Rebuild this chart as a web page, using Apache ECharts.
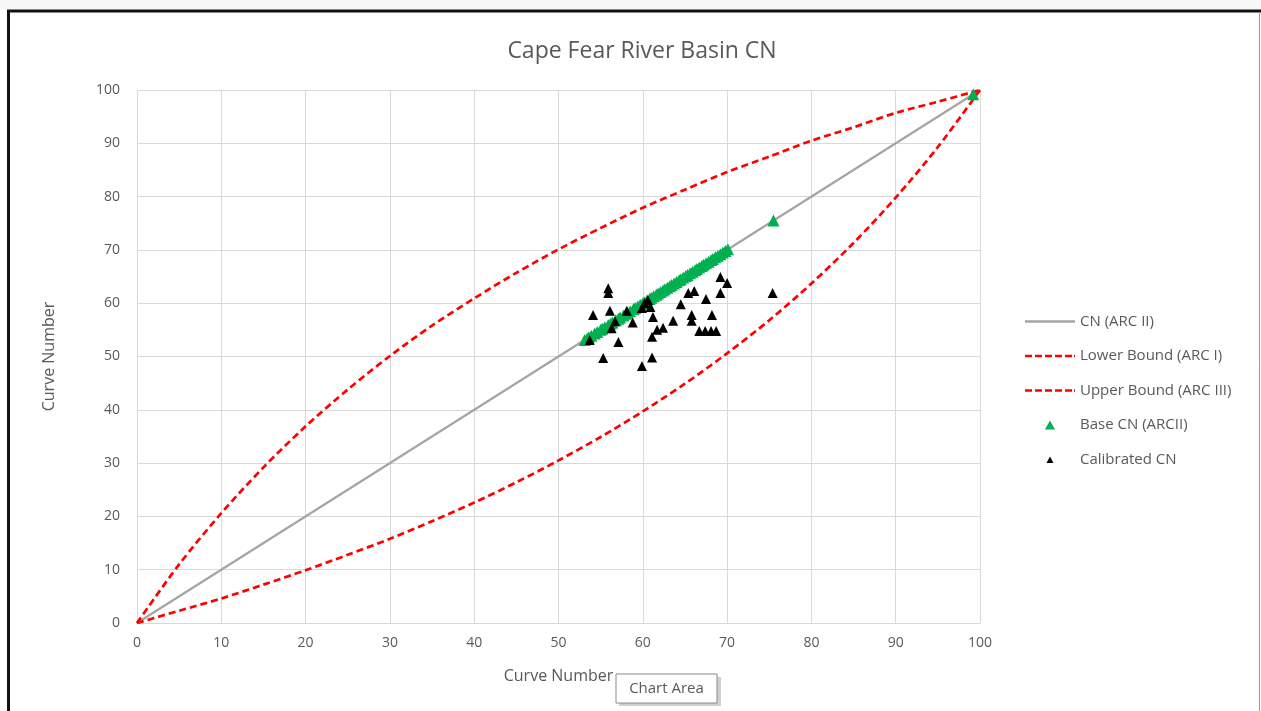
<!DOCTYPE html>
<html><head><meta charset="utf-8">
<script src="https://cdn.jsdelivr.net/npm/echarts@6/dist/echarts.min.js"></script>
<style>html,body{margin:0;padding:0;background:#fff;}#c{width:1261px;height:711px;}</style>
</head><body><div id="c"></div>
<script>
var titleText = 'Cape Fear River Basin CN';
var axisName = 'Curve Number';
var seriesNames = ['CN (ARC II)', 'Lower Bound (ARC I)', 'Upper Bound (ARC III)', 'Base CN (ARCII)', 'Calibrated CN'];

// CN (ARC II) 1:1 line
var arc2X = [0, 100];
var arc2Y = [0, 100];

// bound curves read at every 5 CN
var boundX = [0, 5, 10, 15, 20, 25, 30, 35, 40, 45, 50, 55, 60, 65, 70, 75, 80, 85, 90, 95, 100];
var arc1Y = [0, 2.3, 4.6, 7.2, 9.9, 12.8, 15.8, 19.1, 22.6, 26.4, 30.5, 34.9, 39.7, 44.9, 50.6, 56.8, 63.7, 71.3, 79.8, 89.3, 100];
var arc3Y = [0, 11.0, 20.6, 29.2, 36.9, 43.8, 50.1, 55.8, 60.9, 65.7, 70.1, 74.1, 77.9, 81.3, 84.6, 87.5, 90.5, 93.0, 95.7, 97.8, 100];

// Base CN (ARC II) points lie on the 1:1 line
var baseCN = [53.1, 53.4, 53.6, 53.9, 54.3, 54.6, 55.0, 55.2, 55.5, 55.9, 56.2, 56.4, 56.8, 57.1, 57.3, 57.7, 58.0, 58.2, 58.5, 58.9,
  59.1, 59.4, 59.7, 60.0, 60.2, 60.5, 60.8, 61.0, 61.3, 61.6, 61.8, 62.1, 62.4, 62.6, 62.9, 63.2, 63.4, 63.7, 64.0, 64.3,
  64.5, 64.8, 65.1, 65.3, 65.6, 65.9, 66.2, 66.4, 66.7, 67.0, 67.2, 67.5, 67.8, 68.1, 68.3, 68.6, 68.9, 69.2, 69.5, 69.8, 70.1,
  75.5, 99.2];

// Calibrated CN points
var calX = [53.7, 54.1, 55.3, 55.9, 55.9, 56.1, 56.3, 56.7, 57.1, 58.1, 58.8, 59.9, 59.9, 60.6, 60.9, 61.2, 61.1, 61.1, 61.7, 62.4,
  63.6, 64.5, 65.4, 66.1, 65.8, 65.8, 66.7, 67.4, 68.1, 68.7, 67.5, 68.2, 69.2, 70.0, 69.2, 75.4, 60.2];
var calY = [53.1, 57.8, 49.7, 62.8, 61.9, 58.6, 55.3, 56.6, 52.7, 58.6, 56.4, 59.1, 48.2, 60.6, 59.3, 57.4, 53.7, 49.8, 55.0, 55.4,
  56.7, 59.8, 61.9, 62.3, 57.8, 56.7, 54.8, 54.8, 54.8, 54.8, 60.8, 57.8, 64.9, 63.8, 61.9, 61.9, 60.0];

var tickMin = 0, tickMax = 100, tickStep = 10;

function pairs(xs, ys) { return xs.map(function (x, i) { return [x, ys[i]]; }); }

var font = '"Open Sans", Lato, sans-serif';
var txt = '#595959';

// legend icons (50x14 box, padded with move-to corners so they keep pixel size)
var pad = 'path://M0,0 M50,14 ';
var iconSolid = pad + 'M0,5.8 L50,5.8 L50,8.2 L0,8.2 Z';
var iconDash = pad + 'M0,5.7 L7,5.7 L7,8.3 L0,8.3 Z M10,5.7 L17,5.7 L17,8.3 L10,8.3 Z M20,5.7 L27,5.7 L27,8.3 L20,8.3 Z ' +
  'M30,5.7 L37,5.7 L37,8.3 L30,8.3 Z M40,5.7 L47,5.7 L47,8.3 L40,8.3 Z M49,5.7 L50,5.7 L50,8.3 L49,8.3 Z';
var iconTriBig = pad + 'M25,2.5 L30,11.5 L20,11.5 Z';
var iconTriSmall = pad + 'M25,4 L28.5,10.5 L21.5,10.5 Z';

var chart = echarts.init(document.getElementById('c'), null, { renderer: 'canvas' });
chart.setOption({
  animation: false,
  backgroundColor: '#ffffff',
  title: {
    text: titleText, left: 637, top: 35, textAlign: 'center',
    textStyle: { fontFamily: font, fontSize: 23, fontWeight: 'normal', color: txt }
  },
  grid: { left: 137, right: 281, top: 90, bottom: 88, containLabel: false },
  xAxis: {
    type: 'value', min: tickMin, max: tickMax, interval: tickStep,
    name: axisName, nameLocation: 'middle', nameGap: 45,
    nameTextStyle: { fontFamily: font, fontSize: 16, color: txt },
    axisLine: { show: true, lineStyle: { color: '#d9d9d9', width: 1 } },
    axisTick: { show: false },
    axisLabel: { fontFamily: font, fontSize: 14, color: txt, margin: 13 },
    splitLine: { show: true, lineStyle: { color: '#d9d9d9', width: 1 } }
  },
  yAxis: {
    type: 'value', min: tickMin, max: tickMax, interval: tickStep,
    name: axisName, nameLocation: 'middle', nameGap: 80, nameRotate: 90,
    nameTextStyle: { fontFamily: font, fontSize: 16, color: txt },
    axisLine: { show: false },
    axisTick: { show: false },
    axisLabel: { fontFamily: font, fontSize: 14, color: txt, margin: 17 },
    splitLine: { show: true, lineStyle: { color: '#d9d9d9', width: 1 } }
  },
  legend: {
    orient: 'vertical', left: 1020, top: 309, itemWidth: 50, itemHeight: 14, itemGap: 19.5,
    textStyle: { fontFamily: font, fontSize: 15, color: txt },
    data: [
      { name: seriesNames[0], icon: iconSolid, itemStyle: { color: '#a5a5a5' } },
      { name: seriesNames[1], icon: iconDash, itemStyle: { color: '#ff0000' } },
      { name: seriesNames[2], icon: iconDash, itemStyle: { color: '#ff0000' } },
      { name: seriesNames[3], icon: iconTriBig, itemStyle: { color: '#00b050' } },
      { name: seriesNames[4], icon: iconTriSmall, itemStyle: { color: '#000000' } }
    ]
  },
  series: [
    {
      name: seriesNames[0], type: 'line', data: pairs(arc2X, arc2Y), symbol: 'none',
      lineStyle: { color: '#a5a5a5', width: 2.2 }, itemStyle: { color: '#a5a5a5' }, z: 2
    },
    {
      name: seriesNames[1], type: 'line', data: pairs(boundX, arc1Y), symbol: 'none', smooth: 0.3,
      lineStyle: { color: '#ff0000', width: 2.7, type: [7, 4] }, itemStyle: { color: '#ff0000' }, z: 3
    },
    {
      name: seriesNames[2], type: 'line', data: pairs(boundX, arc3Y), symbol: 'none', smooth: 0.3,
      lineStyle: { color: '#ff0000', width: 2.7, type: [7, 4] }, itemStyle: { color: '#ff0000' }, z: 3
    },
    {
      name: seriesNames[3], type: 'scatter', data: pairs(baseCN, baseCN), symbol: 'triangle', symbolSize: 12,
      itemStyle: { color: '#00b050', opacity: 1 }, z: 4
    },
    {
      name: seriesNames[4], type: 'scatter', data: pairs(calX, calY), symbol: 'triangle', symbolSize: 10,
      itemStyle: { color: '#000000', opacity: 1 }, z: 5
    }
  ],
  graphic: [
    { type: 'rect', shape: { x: 0, y: 0, width: 1261, height: 9 }, style: { fill: '#f7f7f7' }, silent: true, z: 0 },
    { type: 'line', shape: { x1: 7, y1: 11, x2: 1261, y2: 11 }, style: { stroke: '#111', lineWidth: 3 }, silent: true, z: 10 },
    { type: 'line', shape: { x1: 8.5, y1: 10, x2: 8.5, y2: 711 }, style: { stroke: '#111', lineWidth: 3 }, silent: true, z: 10 },
    { type: 'line', shape: { x1: 1259.5, y1: 12, x2: 1259.5, y2: 711 }, style: { stroke: '#999', lineWidth: 1 }, silent: true, z: 10 },
    { type: 'rect', shape: { x: 619, y: 677, width: 102, height: 29 }, style: { fill: '#cfcfcf' }, silent: true, z: 20 },
    { type: 'rect', shape: { x: 616, y: 674, width: 101, height: 29 }, style: { fill: '#ffffff', stroke: '#8a8a8a', lineWidth: 1 }, silent: true, z: 21 },
    { type: 'text', x: 666.5, y: 689, style: { text: 'Chart Area', font: '15px ' + font, fill: txt, align: 'center', verticalAlign: 'middle' }, silent: true, z: 22 }
  ]
});
</script></body></html>
